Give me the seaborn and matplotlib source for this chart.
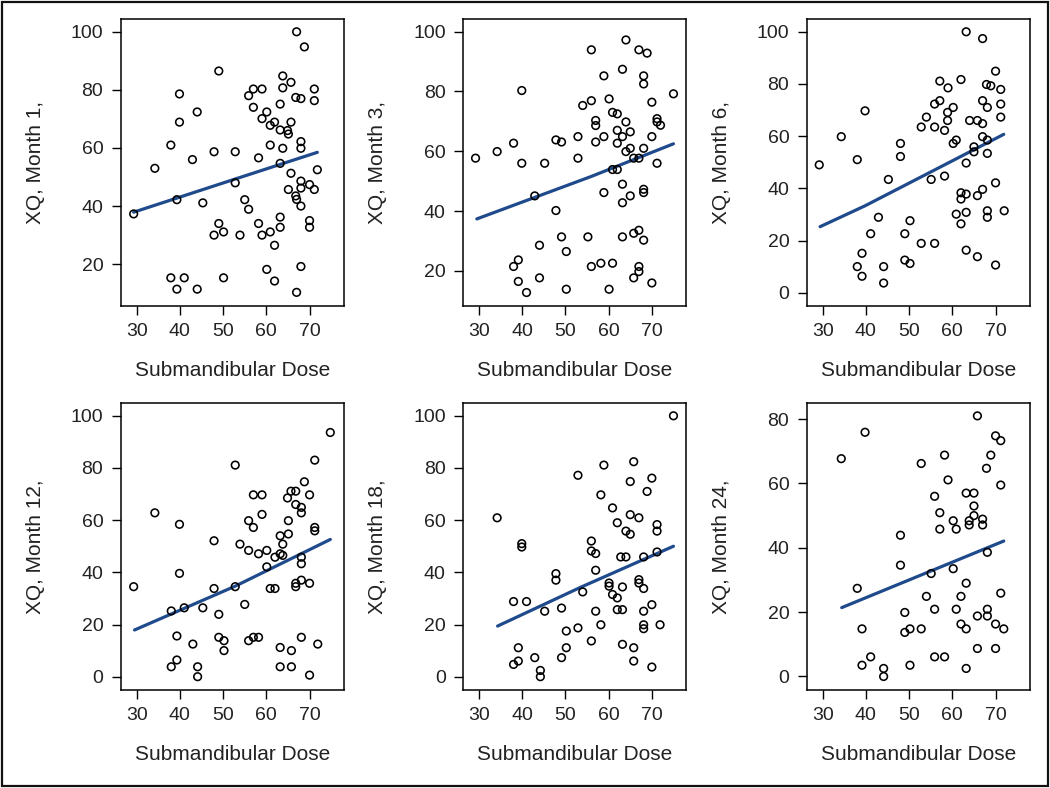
import matplotlib
matplotlib.use("Agg")
import matplotlib.pyplot as plt
from matplotlib.patches import Rectangle
import seaborn as sns

# ------------------------------------------------------------
# Datos (dosis submandibular vs XQ)
# ------------------------------------------------------------
x_lim = (26.3, 77.9)
x_ticks = [30, 40, 50, 60, 70]
x_label = "Submandibular Dose"

# Month 1
dose_m1 = [67.0, 68.8, 49.0, 63.8, 65.7, 63.8, 57.0, 59.0, 55.9, 71.1, 39.9, 66.8, 68.0, 71.1,
           63.2, 57.0, 44.0, 60.1, 59.0, 61.9, 65.7, 39.9, 60.9, 63.2, 64.9, 65.1, 68.0, 68.0,
           37.9, 60.9, 63.8, 47.9, 52.8, 58.2, 42.9, 63.2, 34.2, 71.8, 65.7, 52.8, 68.0, 70.0,
           68.0, 71.1, 65.1, 66.8, 67.0, 39.3, 55.0, 45.3, 68.0, 55.9, 29.3, 63.2, 49.0, 58.2,
           70.0, 70.0, 63.2, 50.1, 47.9, 53.9, 59.0, 60.9, 61.9, 60.1, 68.0, 37.9, 41.0, 50.1,
           61.9, 39.3, 44.0, 67.0]
xq_m1 = [100.0, 94.8, 86.5, 84.8, 82.6, 80.7, 80.3, 80.3, 78.0, 80.3, 78.6, 77.4, 77.0, 76.3,
         75.1, 74.0, 72.4, 72.4, 70.1, 68.9, 68.9, 68.9, 67.8, 66.2, 66.0, 64.8, 62.2, 59.9,
         61.0, 61.0, 59.9, 58.7, 58.7, 56.6, 56.0, 54.7, 53.0, 52.5, 51.3, 48.0, 48.6, 47.4,
         46.2, 45.7, 45.7, 43.5, 42.3, 42.2, 42.2, 41.1, 40.0, 38.9, 37.3, 36.2, 34.0, 34.0,
         35.0, 32.7, 32.7, 31.1, 30.0, 30.0, 30.0, 31.1, 26.5, 18.2, 19.2, 15.3, 15.3, 15.3,
         14.2, 11.4, 11.4, 10.3]
fit_dose_m1 = [29.3, 50.5, 71.8]
fit_xq_m1 = [37.9, 48.2, 58.5]

# Month 3
dose_m3 = [64.0, 56.0, 67.0, 68.9, 63.2, 58.9, 68.1, 68.1, 39.9, 75.0, 60.1, 56.0, 54.0, 70.0,
           60.9, 62.0, 64.0, 71.2, 71.2, 72.0, 57.0, 57.0, 62.0, 65.0, 52.9, 58.9, 63.2, 70.0,
           47.8, 49.1, 57.0, 62.0, 38.0, 65.0, 68.1, 64.0, 34.2, 29.2, 52.9, 65.8, 67.0, 39.9,
           45.2, 71.2, 60.9, 62.0, 63.2, 58.9, 68.1, 68.1, 42.9, 65.0, 63.2, 47.8, 65.8, 67.0,
           68.1, 49.1, 55.2, 63.2, 44.0, 50.2, 39.1, 38.0, 56.0, 58.2, 60.9, 67.0, 67.0, 65.8,
           39.1, 44.0, 70.0, 41.0, 50.2, 60.1]
xq_m3 = [97.2, 93.9, 93.9, 92.8, 87.4, 85.2, 85.2, 82.5, 80.3, 79.2, 77.5, 76.9, 75.3, 76.4,
         73.0, 72.5, 69.8, 70.9, 69.8, 68.7, 70.3, 68.6, 67.0, 66.5, 64.9, 64.9, 64.9, 64.9,
         63.8, 63.1, 63.1, 62.7, 62.7, 61.0, 61.0, 59.9, 59.9, 57.7, 57.7, 57.7, 57.7, 56.0,
         56.0, 56.0, 53.9, 53.9, 49.0, 46.2, 47.3, 46.2, 45.1, 45.1, 42.8, 40.2, 32.6, 33.6,
         30.3, 31.4, 31.4, 31.4, 28.6, 26.5, 23.7, 21.5, 21.5, 22.6, 22.6, 21.5, 19.8, 17.7,
         16.5, 17.7, 16.0, 12.8, 13.9, 13.9]
fit_dose_m3 = [29.5, 56.0, 75.0]
fit_xq_m3 = [37.4, 51.6, 62.5]

# Month 6
dose_m6 = [63.2, 67.0, 70.0, 57.1, 59.0, 62.0, 67.9, 68.9, 71.2, 67.0, 71.2, 57.1, 55.9, 60.2,
           68.1, 58.9, 39.8, 71.2, 54.0, 58.9, 64.0, 65.8, 67.0, 52.8, 55.9, 58.2, 34.3, 67.0,
           60.9, 60.2, 68.1, 48.0, 65.0, 65.0, 68.1, 48.0, 38.0, 63.2, 29.2, 45.2, 55.1, 58.2,
           70.0, 62.0, 63.2, 67.0, 65.8, 62.0, 60.9, 63.2, 68.1, 72.0, 68.1, 42.9, 50.2, 62.0,
           41.1, 49.0, 52.8, 55.9, 39.1, 63.2, 65.8, 38.0, 44.1, 49.0, 50.2, 70.0, 39.1, 44.1]
xq_m6 = [100.0, 97.4, 84.9, 81.1, 78.5, 81.7, 79.8, 79.3, 77.9, 73.6, 72.3, 73.6, 72.3, 71.0,
         71.0, 69.1, 69.7, 67.3, 67.3, 66.0, 66.0, 66.0, 64.8, 63.5, 63.5, 62.2, 59.8, 59.8,
         58.5, 57.2, 58.5, 57.2, 55.9, 54.0, 53.4, 52.2, 51.0, 49.7, 49.0, 43.4, 43.4, 44.7,
         42.1, 38.3, 37.8, 39.6, 37.2, 35.9, 30.1, 30.8, 31.4, 31.4, 28.9, 28.9, 27.6, 26.4,
         22.6, 22.6, 18.9, 18.9, 15.1, 16.3, 13.8, 10.0, 10.0, 12.5, 11.2, 10.6, 6.3, 3.7]
fit_dose_m6 = [29.4, 39.8, 71.9]
fit_xq_m6 = [25.3, 33.3, 60.7]

# Month 12
dose_m12 = [74.8, 71.2, 52.8, 68.8, 65.7, 66.8, 57.0, 59.0, 70.0, 64.9, 66.8, 68.1, 68.1, 34.2,
            59.0, 55.9, 65.1, 57.0, 39.9, 71.2, 71.2, 65.1, 63.2, 47.9, 63.8, 53.9, 55.9, 58.2,
            60.1, 63.2, 62.0, 63.8, 68.1, 68.1, 60.1, 39.9, 68.1, 66.8, 66.8, 70.0, 29.3, 47.9,
            52.8, 60.9, 62.0, 55.0, 38.0, 41.0, 45.3, 49.0, 39.3, 43.0, 49.0, 50.2, 55.9, 57.0,
            58.2, 68.1, 71.9, 63.2, 65.8, 50.2, 39.3, 38.0, 44.1, 44.1, 63.2, 65.8, 70.0]
xq_m12 = [93.6, 83.0, 81.1, 74.7, 71.1, 71.1, 69.7, 69.7, 69.7, 68.5, 66.0, 64.9, 62.8, 62.8,
          62.2, 59.8, 59.8, 57.2, 58.4, 57.2, 55.9, 54.7, 54.0, 52.1, 50.8, 50.8, 48.4, 47.1,
          48.4, 47.1, 45.8, 46.5, 45.8, 43.3, 42.1, 39.6, 37.0, 35.8, 34.5, 35.8, 34.5, 33.8,
          34.5, 33.8, 33.8, 27.7, 25.2, 26.4, 26.4, 23.9, 15.6, 12.5, 15.1, 13.8, 13.8, 15.1,
          15.1, 15.1, 12.5, 11.2, 10.0, 10.0, 6.4, 3.8, 3.8, 0.0, 3.8, 3.8, 0.6]
fit_dose_m12 = [29.5, 52.8, 74.8]
fit_xq_m12 = [17.9, 34.7, 52.6]

# Month 18
dose_m18 = [75.0, 65.8, 58.9, 52.9, 65.0, 70.0, 68.9, 58.2, 60.9, 34.2, 65.0, 67.0, 62.0, 71.2,
            71.2, 64.0, 65.0, 39.9, 39.9, 56.0, 56.0, 57.0, 62.8, 64.0, 68.1, 71.2, 57.0, 47.8,
            47.8, 60.1, 60.1, 63.2, 67.0, 67.0, 68.1, 54.0, 60.9, 62.0, 38.0, 41.0, 70.0, 49.1,
            45.2, 57.0, 62.0, 63.2, 68.1, 58.2, 68.1, 68.1, 71.9, 52.9, 50.2, 56.0, 63.2, 65.8,
            39.1, 50.2, 42.9, 49.1, 39.1, 38.0, 65.8, 44.2, 44.2, 70.0]
xq_m18 = [100.0, 82.4, 81.1, 77.2, 74.8, 76.1, 71.0, 69.7, 64.7, 60.9, 62.1, 60.9, 59.0, 58.3,
          55.8, 55.8, 54.6, 51.0, 49.7, 52.0, 48.2, 47.2, 45.9, 45.9, 45.9, 47.8, 40.8, 39.5,
          37.0, 35.9, 34.7, 34.4, 37.2, 35.9, 33.8, 32.5, 31.5, 30.2, 28.8, 28.8, 27.6, 26.3,
          25.1, 25.1, 25.7, 25.7, 25.1, 19.9, 19.9, 18.4, 19.9, 18.7, 17.5, 13.7, 12.4, 11.1,
          11.1, 11.1, 7.3, 7.3, 6.0, 4.7, 6.0, 2.4, 0.0, 3.7]
fit_dose_m18 = [34.3, 53.3, 75.0]
fit_xq_m18 = [19.4, 34.1, 50.0]

# Month 24
dose_m24 = [65.8, 39.8, 70.0, 71.2, 34.3, 52.8, 58.2, 68.9, 67.9, 59.0, 71.2, 63.2, 65.0, 55.9,
            65.0, 57.1, 65.0, 60.2, 63.9, 63.9, 67.0, 67.0, 60.9, 57.1, 48.0, 68.1, 48.0, 60.2,
            55.1, 63.2, 38.0, 71.2, 54.0, 62.0, 55.9, 60.9, 68.1, 49.0, 65.8, 68.1, 62.0, 70.0,
            39.1, 50.2, 52.8, 63.2, 71.9, 49.0, 65.8, 70.0, 41.1, 55.9, 58.2, 39.1, 50.2, 44.1,
            63.2, 44.1]
xq_m24 = [81.0, 75.9, 74.8, 73.3, 67.7, 66.2, 68.8, 68.8, 64.7, 61.1, 59.5, 57.0, 57.0, 56.0,
          53.0, 50.9, 50.0, 48.4, 48.4, 47.1, 48.9, 47.1, 45.8, 45.8, 43.9, 38.6, 34.6, 33.5,
          32.0, 29.0, 27.4, 25.9, 24.9, 24.9, 20.9, 20.9, 20.9, 19.9, 18.8, 18.8, 16.3, 16.3,
          14.8, 14.8, 14.8, 14.8, 14.8, 13.7, 8.7, 8.7, 6.1, 6.1, 6.1, 3.5, 3.5, 2.5, 2.5, 0.0]
fit_dose_m24 = [34.4, 71.9]
fit_xq_m24 = [21.4, 42.1]

# Configuracion de cada panel: (datos, ajuste, etiqueta, limites y, ticks y)
panels = [
    (dose_m1, xq_m1, fit_dose_m1, fit_xq_m1, "XQ, Month 1,", (5.6, 104.4), [20, 40, 60, 80, 100]),
    (dose_m3, xq_m3, fit_dose_m3, fit_xq_m3, "XQ, Month 3,", (8.3, 104.2), [20, 40, 60, 80, 100]),
    (dose_m6, xq_m6, fit_dose_m6, fit_xq_m6, "XQ, Month 6,", (-5.1, 104.9), [0, 20, 40, 60, 80, 100]),
    (dose_m12, xq_m12, fit_dose_m12, fit_xq_m12, "XQ, Month 12,", (-5.1, 104.9), [0, 20, 40, 60, 80, 100]),
    (dose_m18, xq_m18, fit_dose_m18, fit_xq_m18, "XQ, Month 18,", (-5.1, 104.9), [0, 20, 40, 60, 80, 100]),
    (dose_m24, xq_m24, fit_dose_m24, fit_xq_m24, "XQ, Month 24,", (-4.2, 85.0), [0, 20, 40, 60, 80]),
]

# ------------------------------------------------------------
# Estilo
# ------------------------------------------------------------
sns.set_style("ticks")
plt.rcParams["font.family"] = ["Liberation Sans", "DejaVu Sans"]
text_color = "#222222"
line_color = "#1f4a8c"

W, H = 1050, 788
fig = plt.figure(figsize=(W / 100, H / 100), dpi=100)

# posiciones en pixeles (izquierda de columnas, parte superior de filas)
col_left = [120.7, 463.0, 806.7]
row_top = [19.0, 403.0]
ax_w, ax_h = 223.0, 287.0

for i, (xd, yd, fx, fy, ylab, ylim, yticks) in enumerate(panels):
    r, c = divmod(i, 3)
    left = col_left[c] / W
    bottom = 1 - (row_top[r] + ax_h) / H
    ax = fig.add_axes([left, bottom, ax_w / W, ax_h / H])

    sns.scatterplot(x=xd, y=yd, ax=ax, marker="o", s=30, facecolor="none",
                    edgecolor="black", linewidth=1.15, zorder=3)
    sns.lineplot(x=fx, y=fy, ax=ax, color=line_color, linewidth=2.3, zorder=2)

    ax.set_xlim(*x_lim)
    ax.set_ylim(*ylim)
    ax.set_xticks(x_ticks)
    ax.set_yticks(yticks)
    ax.tick_params(axis="both", direction="out", length=6.5, width=1.0, pad=6,
                   labelsize=14, colors="black", labelcolor=text_color)
    for sp in ax.spines.values():
        sp.set_visible(True)
        sp.set_linewidth(1.1)
        sp.set_color("black")

    ax.set_xlabel(x_label, fontsize=15, color=text_color, va="center")
    ax.set_ylabel(ylab, fontsize=15, color=text_color, va="center")
    ax.xaxis.set_label_coords(0.5, -0.223)
    ax.yaxis.set_label_coords(-0.384, 0.5)

# marco exterior de la figura
fig.patches.append(Rectangle((0.0015, 0.002), 0.997, 0.996, transform=fig.transFigure,
                             fill=False, edgecolor="#111111", linewidth=1.6))

fig.savefig("out.png", dpi=100)
plt.close(fig)
